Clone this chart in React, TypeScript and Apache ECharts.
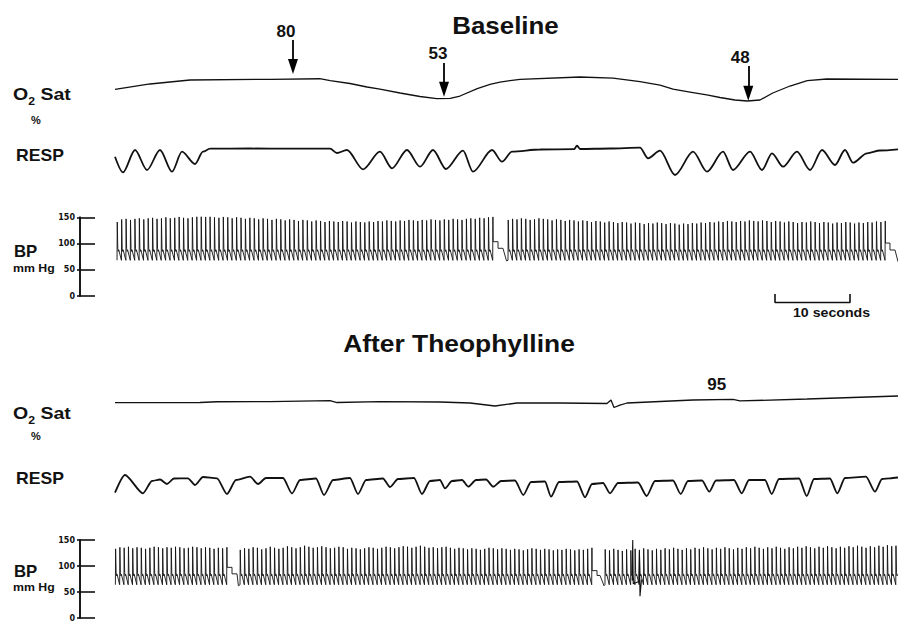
import React, { useEffect, useRef } from 'react';
import * as echarts from 'echarts';

// ---------- data (time in seconds across each strip) ----------
const T_MAX = 104.4;

// Baseline: O2 saturation [s, %]
const baselineO2: [number, number][] = [
  [0, 66.0], [4.67, 73.6], [10, 79.3], [20.7, 80.3], [27.3, 81.1], [28.7, 78.3],
  [31.33, 74.3], [33.6, 69.3], [35.33, 66.4], [38, 60.7], [40.67, 55.7], [42.9, 52.6],
  [44.7, 52.9], [46, 56.4], [48.3, 66.9], [50, 73.1], [51.33, 76.4], [54, 80.3],
  [62, 83.6], [66.4, 82.1], [70, 76.9], [72.67, 72.1], [74.4, 66.4], [76.67, 62.1],
  [78.9, 57.9], [80.67, 54.3], [82.67, 50.7], [84.3, 49.3], [86, 50.7], [87.7, 60.7],
  [90, 70.7], [92.3, 78.3], [94.9, 80.7], [104.4, 80.3],
];
// arrows: time, arrow top value, arrow tip value, label
const baselineO2Arrows = [
  { t: 23.73, top: 136.4, tip: 87.9, label: '80', labelT: 22.8, labelV: 148 },
  { t: 43.87, top: 103.6, tip: 55.4, label: '53', labelT: 43.07, labelV: 117 },
  { t: 84.44, top: 99.3, tip: 49.7, label: '48', labelT: 83.37, labelV: 112 },
];

// Baseline: respiration (arbitrary units)
const baselineResp: [number, number][] = [
  [0, 23.3], [1.07, 7.7], [2.67, 30], [4.27, 10], [6, 30], [7.6, 8.3], [8.93, 28.3],
  [10.67, 16], [11.73, 28.3], [12.67, 31.3], [18, 31.5], [23.33, 31.3], [28.67, 31.3],
  [29.6, 27], [30.93, 30], [33.07, 10.7], [35.33, 28.3], [36.93, 11.7], [38.93, 30],
  [40.67, 13.3], [42.4, 30], [44.13, 11], [46.4, 29.3], [47.73, 8.3], [50.27, 30],
  [51.6, 18.3], [52.93, 28.3], [56.67, 30.5], [61.2, 30.8], [61.6, 34.3], [62, 31],
  [66, 31.5], [70, 32.3], [71.07, 21.7], [72.67, 29.3], [74.67, 5], [77.07, 28.3],
  [78.93, 8.3], [81.07, 28.3], [82.4, 10], [84.67, 28.3], [86.27, 10], [87.6, 26.7],
  [89.07, 13.3], [90.93, 28.3], [92.67, 10], [94.27, 30], [96, 15], [97.33, 30],
  [98.4, 17.3], [100.27, 26.7], [102, 29.5], [104.4, 30.7],
];

// Baseline: blood pressure, systolic peak of each beat (mm Hg)
const baselineSys1 = [
  141, 146, 147, 145, 147, 148, 146, 148, 149, 147,
  148, 150, 148, 149, 151, 149, 148, 150, 152, 153,
  151, 152, 150, 149, 151, 150, 148, 150, 149, 147,
  149, 148, 146, 148, 147, 145, 147, 146, 144, 146,
  145, 143, 145, 144, 142, 144, 143, 141, 143, 142,
  141, 143, 142, 140, 142, 141, 140, 142, 141, 143,
  142, 144, 143, 142, 144, 143, 145, 144, 143, 145,
  144, 146, 145, 144, 146, 145, 147, 146, 145, 147,
  148, 147, 149, 148, 150, 151,
];
const baselineSys2 = [
  145, 147, 146, 148, 147, 145, 146, 148, 147, 146,
  144, 146, 145, 143, 145, 144, 142, 144, 143, 141,
  143, 142, 140, 142, 141, 139, 141, 140, 138, 140,
  139, 137, 139, 138, 140, 139, 137, 139, 138, 136,
  138, 137, 139, 138, 140, 139, 141, 140, 142, 141,
  143, 142, 141, 143, 142, 144, 143, 142, 144, 143,
  141, 143, 142, 140, 142, 141, 139, 141, 140, 142,
  141, 139, 141, 140, 138, 140, 139, 141, 140, 138,
  140, 139, 141, 140, 142, 141, 143,
];
const baselineRuns = [
  { start: 0.27, end: 50.36, dia: 68, sys: baselineSys1 },
  { start: 52.4, end: 102.67, dia: 68, sys: baselineSys2 },
];
const baselineGap1: [number, number][] = [[50.42, 103.5], [51.07, 103.5], [51.07, 90.9], [51.73, 90.9], [52.2, 67]];
const baselineGap2: [number, number][] = [[102.73, 100.9], [103.33, 100.9], [103.33, 87.7], [104, 87.7], [104.4, 65.4]];
const scaleBar: [number, number][] = [[88, 4], [88, -12.5], [98, -12.5], [98, 4]];

// After theophylline: O2 saturation [s, %]
const afterO2: [number, number][] = [
  [0, 90.4], [11.33, 90.7], [13.6, 91.8], [20.67, 92.1], [28.67, 93.3], [29.6, 90.7],
  [35.33, 92.1], [43.33, 91.4], [47.33, 90], [50.67, 85.7], [53.6, 90], [59.33, 90],
  [65.6, 89.3], [66.13, 94.3], [66.53, 83.6], [67.33, 87.1], [68.27, 90], [77.07, 94.3],
  [82.4, 95.3], [83.33, 92.9], [92.27, 95.7], [104.4, 100],
];
const afterO2Labels = [{ label: '95', t: 80.24, v: 116.4 }];

// After theophylline: respiration (arbitrary units)
const afterResp: [number, number][] = [
  [0, 7.3], [1.33, 25], [3.73, 6.7], [4.93, 19], [6.0, 20.5], [6.93, 16], [7.87, 21.5],
  [9.73, 21.7], [10.67, 15], [11.73, 23], [13.6, 21.7], [14.93, 6], [16.13, 20],
  [18.0, 23.3], [19.07, 16], [20.13, 22], [22.4, 22], [23.6, 6.5], [24.67, 20],
  [26.8, 21.5], [27.87, 5], [29.07, 20], [31.33, 22], [32.4, 6], [33.47, 20],
  [35.73, 21.5], [36.67, 13], [37.73, 21], [39.87, 22], [40.93, 6], [42.0, 19],
  [43.33, 20], [44.0, 11.7], [44.93, 19], [46.27, 20], [47.11, 13.3], [48.13, 20],
  [49.47, 20.5], [50.44, 13.3], [51.47, 19], [53.33, 19.5], [54.44, 5], [55.47, 18],
  [57.33, 18.5], [58.13, 3.3], [59.2, 18], [61.6, 18.5], [62.67, 2.7], [63.6, 16],
  [65.07, 17], [66.0, 6.7], [67.07, 17], [69.73, 17.5], [70.89, 4], [72.0, 19],
  [74.4, 19.5], [75.43, 6], [76.4, 19], [78.27, 19.5], [79.24, 8.3], [80.13, 19.5],
  [82.53, 20], [83.56, 6.7], [84.53, 20], [86.67, 20], [87.56, 6], [88.53, 21],
  [91.2, 21.5], [92.23, 4], [93.2, 21], [95.33, 21.5], [96.31, 6.7], [97.33, 22],
  [100.13, 23.3], [101.33, 8.3], [102.27, 21], [103.33, 21.7], [104.4, 22.5],
];

// After theophylline: blood pressure, systolic peak of each beat (mm Hg)
const afterSys1 = [
  133, 136, 135, 137, 134, 136, 135, 133, 135, 137,
  136, 134, 136, 135, 137, 136, 134, 135, 137, 136,
  134, 136, 135, 133, 135, 134, 136,
];
const afterSys2 = [
  131, 134, 133, 136, 135, 132, 134, 137, 135, 133,
  135, 138, 136, 134, 136, 139, 137, 135, 136, 138,
  136, 134, 135, 137, 136, 133, 135, 134, 132, 134,
  136, 135, 133, 135, 137, 136, 134, 136, 138, 137,
  135, 137, 139, 137, 135, 136, 134, 136, 137, 135,
  133, 135, 134, 132, 134, 133, 131, 133, 135, 134,
  132, 134, 133, 131, 133, 132, 130, 132, 134, 133,
  131, 133, 132, 130, 132, 131, 133, 132, 130, 132,
  131, 133, 135,
];
const afterSys3 = [
  132, 130, 133, 131, 129, 132, 130, 133, 131, 134,
  132, 130, 133, 131, 134, 132, 135, 133, 131, 134,
  132, 135, 133, 136, 134, 132, 135, 133, 136, 134,
  132, 135, 133, 136, 134, 137, 135, 133, 136, 134,
  137, 135, 133, 136, 134, 137, 135, 138, 136, 134,
  137, 135, 138, 136, 134, 137, 135, 138, 136, 139,
  137, 135, 138, 136, 139, 137, 140, 138, 139,
];
const afterRuns = [
  { start: 0.05, end: 14.89, dia: 64, sys: afterSys1 },
  { start: 16.67, end: 63.56, dia: 64, sys: afterSys2 },
  { start: 65.33, end: 104.1, dia: 64, sys: afterSys3 },
];
const afterGap1: [number, number][] = [[14.95, 97.4], [15.6, 97.4], [15.6, 84.9], [16.27, 84.9], [16.45, 62]];
const afterGap2: [number, number][] = [[63.62, 91.1], [64.27, 91.1], [64.27, 81.8], [64.67, 81.8], [65.2, 62]];
const afterArtifact: [number, number][] = [
  [68.96, 72], [69.03, 150], [69.1, 66], [69.85, 70], [69.92, 128], [70.0, 42], [70.2, 74],
];

const BP_TICKS = [0, 50, 100, 150];

// ---------- helpers ----------
type Run = { start: number; end: number; dia: number; sys: number[] };
function beats(run: Run, tail: boolean): [number, number][] {
  const n = run.sys.length;
  const T = (run.end - run.start) / (n - 1);
  const out: [number, number][] = [];
  run.sys.forEach((s, i) => {
    const t0 = run.start + i * T;
    out.push([t0, run.dia], [t0 + 0.03, s]);
    if (i < n - 1 || tail) {
      out.push([t0 + 0.1, run.dia + 23], [t0 + 0.17, run.dia + 17], [t0 + 0.23, run.dia + 20]);
    }
  });
  return out;
}

const FONT = '"Liberation Sans", Arial, Helvetica, sans-serif';
const INK = '#111';

function txt(text: string, x: number, y: number, size: number, sx = 1, align = 'left') {
  return {
    type: 'text', x, y, scaleX: sx, silent: true,
    style: {
      text, fill: INK, fontSize: size, fontWeight: 'bold', fontFamily: FONT,
      align, verticalAlign: 'middle', textAlign: align, textVerticalAlign: 'middle',
    },
  };
}
function o2Label(x: number, y: number) {
  return {
    type: 'text', x, y, scaleX: 1.22, silent: true,
    style: {
      text: '{a|O}{b|2}{a| Sat}', fill: INK, verticalAlign: 'middle', textVerticalAlign: 'middle',
      rich: {
        a: { fontSize: 16, fontWeight: 'bold', fontFamily: FONT, lineHeight: 16, fill: INK },
        b: { fontSize: 10, fontWeight: 'bold', fontFamily: FONT, lineHeight: 10, verticalAlign: 'bottom', fill: INK, padding: [0, 0, -3, 0] },
      },
    },
  };
}

const GL = 115;
const GW = 783;

function hiddenX(gridIndex: number) {
  return { gridIndex, type: 'value', min: 0, max: T_MAX, show: false };
}
function hiddenY(gridIndex: number, min: number, max: number) {
  return { gridIndex, type: 'value', min, max, show: false };
}
function bpAxes(gridIndex: number) {
  const common = {
    gridIndex, type: 'value', min: 0, max: 150, interval: 50, position: 'left', offset: 35,
    axisLine: { show: true, onZero: false, lineStyle: { color: INK, width: 1.6 } },
    splitLine: { show: false },
  };
  return [
    { ...common, axisTick: { show: true, inside: true, length: 15, lineStyle: { color: INK, width: 1.6 } }, axisLabel: { show: false } },
    {
      ...common,
      axisTick: { show: true, inside: false, length: 3, lineStyle: { color: INK, width: 1.6 } },
      axisLabel: {
        show: true, margin: 5, color: INK, fontSize: 8, fontWeight: 'bold', fontFamily: '"DejaVu Sans", sans-serif',
        formatter: (v: number) => (BP_TICKS.includes(v) ? String(v) : ''),
      },
    },
  ];
}

const lineBase = { type: 'line', showSymbol: false, symbol: 'none', silent: true };

export default function App() {
  const ref = useRef<HTMLDivElement>(null);
  useEffect(() => {
    if (!ref.current) return;
    const chart = echarts.init(ref.current, null, { renderer: 'svg' });
    const baselineBP = [
      ...beats(baselineRuns[0], false), ...baselineGap1,
      ...beats(baselineRuns[1], false), ...baselineGap2,
    ];
    const afterBP = [
      ...beats(afterRuns[0], false), ...afterGap1,
      ...beats(afterRuns[1], false), ...afterGap2,
      ...beats(afterRuns[2], true),
    ];
    const option: any = {
      animation: false,
      backgroundColor: '#fff',
      grid: [
        { left: GL, width: GW, top: 16.5, height: 98 },
        { left: GL, width: GW, top: 140, height: 40 },
        { left: GL, width: GW, top: 217.3, height: 78.7 },
        { left: GL, width: GW, top: 361, height: 70 },
        { left: GL, width: GW, top: 460, height: 40 },
        { left: GL, width: GW, top: 540, height: 80.7 },
      ],
      xAxis: [0, 1, 2, 3, 4, 5].map(hiddenX),
      yAxis: [
        hiddenY(0, 30, 170),
        hiddenY(1, 0, 40),
        ...bpAxes(2),
        hiddenY(3, 50, 150),
        hiddenY(4, 0, 40),
        ...bpAxes(5),
      ],
      series: [
        {
          ...lineBase, name: 'O2 Sat baseline', xAxisIndex: 0, yAxisIndex: 0, data: baselineO2,
          lineStyle: { color: INK, width: 1.3 },
          markLine: {
            silent: true, symbol: ['none', 'triangle'], symbolSize: [10, 15],
            lineStyle: { color: '#000', width: 1.8, type: 'solid' }, label: { show: false },
            data: baselineO2Arrows.map((a) => [{ coord: [a.t, a.top] }, { coord: [a.t, a.tip + 10.7] }]),
          },
          markPoint: {
            silent: true, symbol: 'circle', symbolSize: 0,
            label: { show: true, position: 'inside', formatter: '{b}', color: INK, fontSize: 17, fontWeight: 'bold', fontFamily: FONT },
            data: baselineO2Arrows.map((a) => ({ name: a.label, coord: [a.labelT, a.labelV] })),
          },
        },
        { ...lineBase, name: 'RESP baseline', xAxisIndex: 1, yAxisIndex: 1, data: baselineResp, smooth: 0.3, smoothMonotone: 'x', lineStyle: { color: INK, width: 1.8 } },
        { ...lineBase, name: 'BP baseline', xAxisIndex: 2, yAxisIndex: 2, data: baselineBP, lineStyle: { color: INK, width: 0.9 } },
        { ...lineBase, name: '10 seconds', xAxisIndex: 2, yAxisIndex: 2, data: scaleBar, clip: false, lineStyle: { color: INK, width: 1.6 } },
        {
          ...lineBase, name: 'O2 Sat after', xAxisIndex: 3, yAxisIndex: 4, data: afterO2,
          lineStyle: { color: INK, width: 1.3 },
          markPoint: {
            silent: true, symbol: 'circle', symbolSize: 0,
            label: { show: true, position: 'inside', formatter: '{b}', color: INK, fontSize: 17, fontWeight: 'bold', fontFamily: FONT },
            data: afterO2Labels.map((l) => ({ name: l.label, coord: [l.t, l.v] })),
          },
        },
        { ...lineBase, name: 'RESP after', xAxisIndex: 4, yAxisIndex: 5, data: afterResp, smooth: 0.25, smoothMonotone: 'x', lineStyle: { color: INK, width: 1.8 } },
        { ...lineBase, name: 'BP after', xAxisIndex: 5, yAxisIndex: 6, data: afterBP, lineStyle: { color: INK, width: 0.9 } },
        { ...lineBase, name: 'BP after artifact', xAxisIndex: 5, yAxisIndex: 6, data: afterArtifact, lineStyle: { color: INK, width: 1.1 } },
      ],
      graphic: [
        txt('Baseline', 505.5, 25, 24, 1.08, 'center'),
        txt('After Theophylline', 459, 343, 24, 1.1, 'center'),
        o2Label(13, 95),
        txt('%', 36, 120, 10, 1.1, 'center'),
        txt('RESP', 16, 156, 16, 1.1),
        txt('BP', 14, 251, 16, 1.05),
        txt('mm Hg', 13, 268, 11, 1.12),
        txt('10 seconds', 793, 313, 12, 1.18),
        o2Label(13, 414),
        txt('%', 36, 436, 10, 1.1, 'center'),
        txt('RESP', 16, 479, 16, 1.1),
        txt('BP', 14, 571, 16, 1.05),
        txt('mm Hg', 13, 587, 11, 1.12),
      ],
    };
    chart.setOption(option);
    return () => chart.dispose();
  }, []);
  return <div ref={ref} style={{ position: 'fixed', left: 0, top: 0, width: 898, height: 622, background: '#fff' }} />;
}
